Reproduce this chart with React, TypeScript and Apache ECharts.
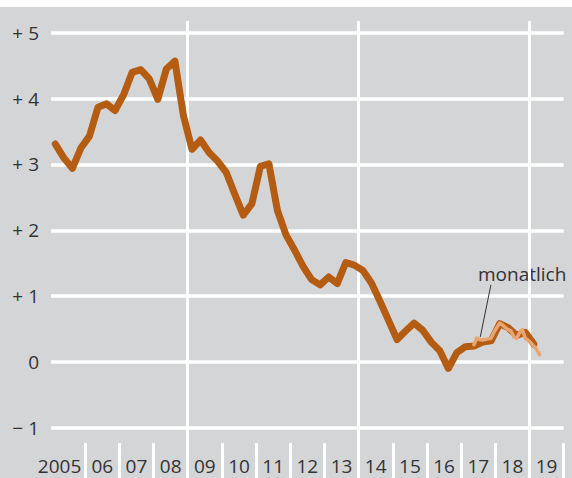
import React, { useEffect, useRef } from "react";
import * as echarts from "echarts";

// Year labels on the x axis (first one is the full year)
const yearLabels = ["2005", "06", "07", "08", "09", "10", "11", "12", "13", "14", "15", "16", "17", "18", "19"];
const firstYear = 2005;
const lastYearEnd = 2020;
// Years at whose start a full-height white line is drawn
const boundaryYears = [2009, 2014, 2019];

// y tick labels for -1 … +5
const yTickValues = [-1, 0, 1, 2, 3, 4, 5];
const yTickLabels = ["− 1", "0", "+ 1", "+ 2", "+ 3", "+ 4", "+ 5"];

// Quarterly values, 2005 Q1 … 2019 Q1
const quarterlyValues = [
  3.31, 3.1, 2.94, 3.25,
  3.43, 3.87, 3.92, 3.82,
  4.06, 4.4, 4.44, 4.3,
  3.99, 4.45, 4.57, 3.74,
  3.23, 3.37, 3.18, 3.05,
  2.88, 2.55, 2.23, 2.4,
  2.97, 3.01, 2.3, 1.93,
  1.7, 1.45, 1.25, 1.17,
  1.29, 1.19, 1.51, 1.47,
  1.39, 1.2, 0.92, 0.63,
  0.34, 0.47, 0.59, 0.48,
  0.3, 0.17, -0.1, 0.14,
  0.23, 0.24, 0.3, 0.32,
  0.58, 0.52, 0.4, 0.45,
  0.27,
];

// Monthly values, May 2017 … Apr 2019
const monthlyStartYear = 2017;
const monthlyStartMonth = 5;
const monthlyValues = [
  0.26, 0.36, 0.34, 0.33, 0.34, 0.35, 0.36, 0.45,
  0.52, 0.59, 0.56, 0.52, 0.49, 0.47, 0.38, 0.36, 0.44, 0.49, 0.36, 0.33,
  0.29, 0.24, 0.19, 0.11,
];

const annotationText = "monatlich";
// Leader line from the monthly curve to the annotation
const leaderFrom = [2017.56, 0.38];
const leaderTo = [2017.87, 1.17];

const BG = "#d4d5d7";
const DARK = "#b35c12";
const LIGHT = "#e8a572";
const TEXT = "#333333";
const FONT = "'Open Sans', 'Noto Sans', sans-serif";

export default function App() {
  const ref = useRef<HTMLDivElement>(null);

  useEffect(() => {
    if (!ref.current) return;
    const chart = echarts.init(ref.current, null, { renderer: "svg" });

    const quarterly = quarterlyValues.map((v, i) => [firstYear + (i + 0.5) / 4, v]);
    const monthly = monthlyValues.map((v, i) => [
      monthlyStartYear + (monthlyStartMonth - 1 + i + 0.5) / 12,
      v,
    ]);

    chart.setOption({
      animation: false,
      backgroundColor: BG,
      textStyle: { fontFamily: FONT },
      graphic: [
        {
          type: "rect",
          left: 0,
          top: 0,
          shape: { width: 572, height: 7 },
          style: { fill: "#ffffff" },
          silent: true,
        },
        {
          type: "text",
          left: 478,
          top: 264,
          style: {
            text: annotationText,
            fill: TEXT,
            font: `19px ${FONT}`,
          },
          silent: true,
        },
      ],
      grid: [
        { left: 51, right: 8.3, top: 32.8, bottom: 50.3 },
        { left: 51, right: 8.3, top: 21, bottom: 35 },
      ],
      xAxis: [
        { type: "value", gridIndex: 0, min: firstYear, max: lastYearEnd, show: false },
        {
          type: "category",
          gridIndex: 1,
          data: yearLabels,
          boundaryGap: true,
          axisLine: { show: false },
          axisTick: {
            show: true,
            length: 35,
            interval: (i: number) => i !== 0,
            lineStyle: { color: "#ffffff", width: 3 },
          },
          splitLine: { show: false },
          axisLabel: {
            show: true,
            interval: 0,
            margin: 13,
            color: TEXT,
            fontSize: 19,
            fontFamily: FONT,
            formatter: (v: string, i: number) => (i === 0 ? `{first|${v}}` : v),
            rich: {
              first: {
                fontSize: 19,
                fontFamily: FONT,
                color: TEXT,
                padding: [0, 17, 0, 0],
              },
            },
          },
        },
        { type: "value", gridIndex: 1, min: firstYear, max: lastYearEnd, show: false },
      ],
      yAxis: [
        {
          type: "value",
          gridIndex: 0,
          min: -1,
          max: 5,
          interval: 1,
          axisLine: { show: false },
          axisTick: { show: false },
          axisLabel: {
            margin: 12,
            color: TEXT,
            fontSize: 19,
            fontFamily: FONT,
            formatter: (v: number) => yTickLabels[yTickValues.indexOf(Math.round(v))] ?? "",
          },
          splitLine: { show: true, lineStyle: { color: "#ffffff", width: 3.5 } },
        },
        { type: "value", gridIndex: 1, min: 0, max: 1, show: false },
      ],
      series: [
        {
          type: "line",
          xAxisIndex: 2,
          yAxisIndex: 1,
          data: [],
          silent: true,
          z: 1,
          markLine: {
            silent: true,
            symbol: "none",
            label: { show: false },
            lineStyle: { color: "#ffffff", width: 3, type: "solid" },
            data: boundaryYears.map((y) => ({ xAxis: y })),
          },
        },
        {
          type: "line",
          xAxisIndex: 0,
          yAxisIndex: 0,
          data: quarterly,
          showSymbol: false,
          symbol: "none",
          lineStyle: { color: DARK, width: 7, join: "round", cap: "round" },
          z: 5,
        },
        {
          type: "line",
          xAxisIndex: 0,
          yAxisIndex: 0,
          data: monthly,
          showSymbol: false,
          symbol: "none",
          lineStyle: { color: LIGHT, width: 3.5, join: "round", cap: "round" },
          z: 6,
          markLine: {
            silent: true,
            symbol: "none",
            label: { show: false },
            lineStyle: { color: "#333333", width: 1, type: "solid" },
            data: [[{ coord: leaderFrom }, { coord: leaderTo }]],
          },
        },
      ],
    });

    return () => chart.dispose();
  }, []);

  return (
    <div
      ref={ref}
      style={{ position: "fixed", left: 0, top: 0, width: 572, height: 478 }}
    />
  );
}
